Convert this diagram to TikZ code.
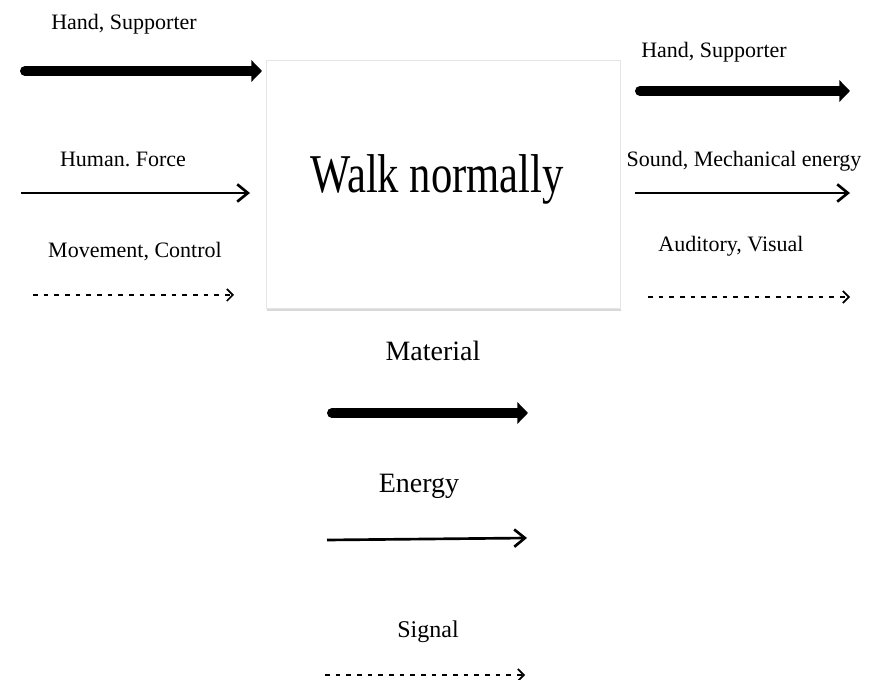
\documentclass[tikz,border=0pt]{standalone}
\usepackage{fontspec}
\setmainfont{Liberation Serif}
\usetikzlibrary{arrows.meta, positioning, shadows}
\frenchspacing

\begin{document}
\begin{tikzpicture}[x=0.75pt, y=-0.75pt,
    lbl/.style={anchor=base, inner sep=0pt, font=\fontsize{16.5}{19}\selectfont},
    key/.style={anchor=base, inner sep=0pt, font=\fontsize{21}{25}\selectfont},
    material/.style={line width=7.5pt, line cap=round, -{Triangle[length=8pt, width=16pt]}},
    energy/.style={line width=2pt, -{Straight Barb[length=8pt, width=13pt, line width=2pt]}},
    signal/.style={line width=1.6pt, dash pattern=on 3.5pt off 4.5pt, -{Straight Barb[length=4.5pt, width=9pt, line width=1.3pt]}}]
    \useasboundingbox (0,0) rectangle (871,680);

    % function box
    \node (box) [draw=gray!20, fill=white, minimum width=265.5pt, minimum height=186pt,
        drop shadow={shadow xshift=1pt, shadow yshift=-2pt, fill=gray!60, opacity=0.5}] at (443,184) {};
    \node (walk) [anchor=base, font=\fontsize{41}{48}\selectfont] at (437,193) {\scalebox{0.78}[1]{Walk normally}};

    % inputs
    \node (inMatL) [lbl] at (124,30) {Hand, Supporter};
    \node (inEnL) [lbl] at (123,167) {Human. Force};
    \node (inSigL) [lbl] at (135,258) {Movement, Control};
    \coordinate (inMatA) at (25,71);  \coordinate (inMatB) at (262,71);
    \coordinate (inEnA) at (21,193);  \coordinate (inEnB) at (250,193);
    \coordinate (inSigA) at (33,295); \coordinate (inSigB) at (234,295);
    \draw[material] (inMatA) -- (inMatB);
    \draw[energy] (inEnA) -- (inEnB);
    \draw[signal] (inSigA) -- (inSigB);

    % outputs
    \node (outMatL) [lbl] at (714,58) {Hand, Supporter};
    \node (outEnL) [lbl] at (744,167) {Sound, Mechanical energy};
    \node (outSigL) [lbl] at (731,252) {Auditory, Visual};
    \coordinate (outMatA) at (640,91);  \coordinate (outMatB) at (850,91);
    \coordinate (outEnA) at (635,193);  \coordinate (outEnB) at (850,193);
    \coordinate (outSigA) at (648,297); \coordinate (outSigB) at (850,297);
    \draw[material] (outMatA) -- (outMatB);
    \draw[energy] (outEnA) -- (outEnB);
    \draw[signal] (outSigA) -- (outSigB);

    % legend
    \node (mat) [key] at (433,361) {Material};
    \node (en) [key] at (419,493) {Energy};
    \node (sig) [key, font=\fontsize{18}{22}\selectfont] at (428,637) {Signal};
    \coordinate (matA) at (332,413); \coordinate (matB) at (528,413);
    \coordinate (enA) at (327,540);  \coordinate (enB) at (527,538);
    \coordinate (sigA) at (325,675); \coordinate (sigB) at (525,675);
    \draw[material] (matA) -- (matB);
    \draw[energy] (enA) -- (enB);
    \draw[signal] (sigA) -- (sigB);
\end{tikzpicture}
\end{document}
